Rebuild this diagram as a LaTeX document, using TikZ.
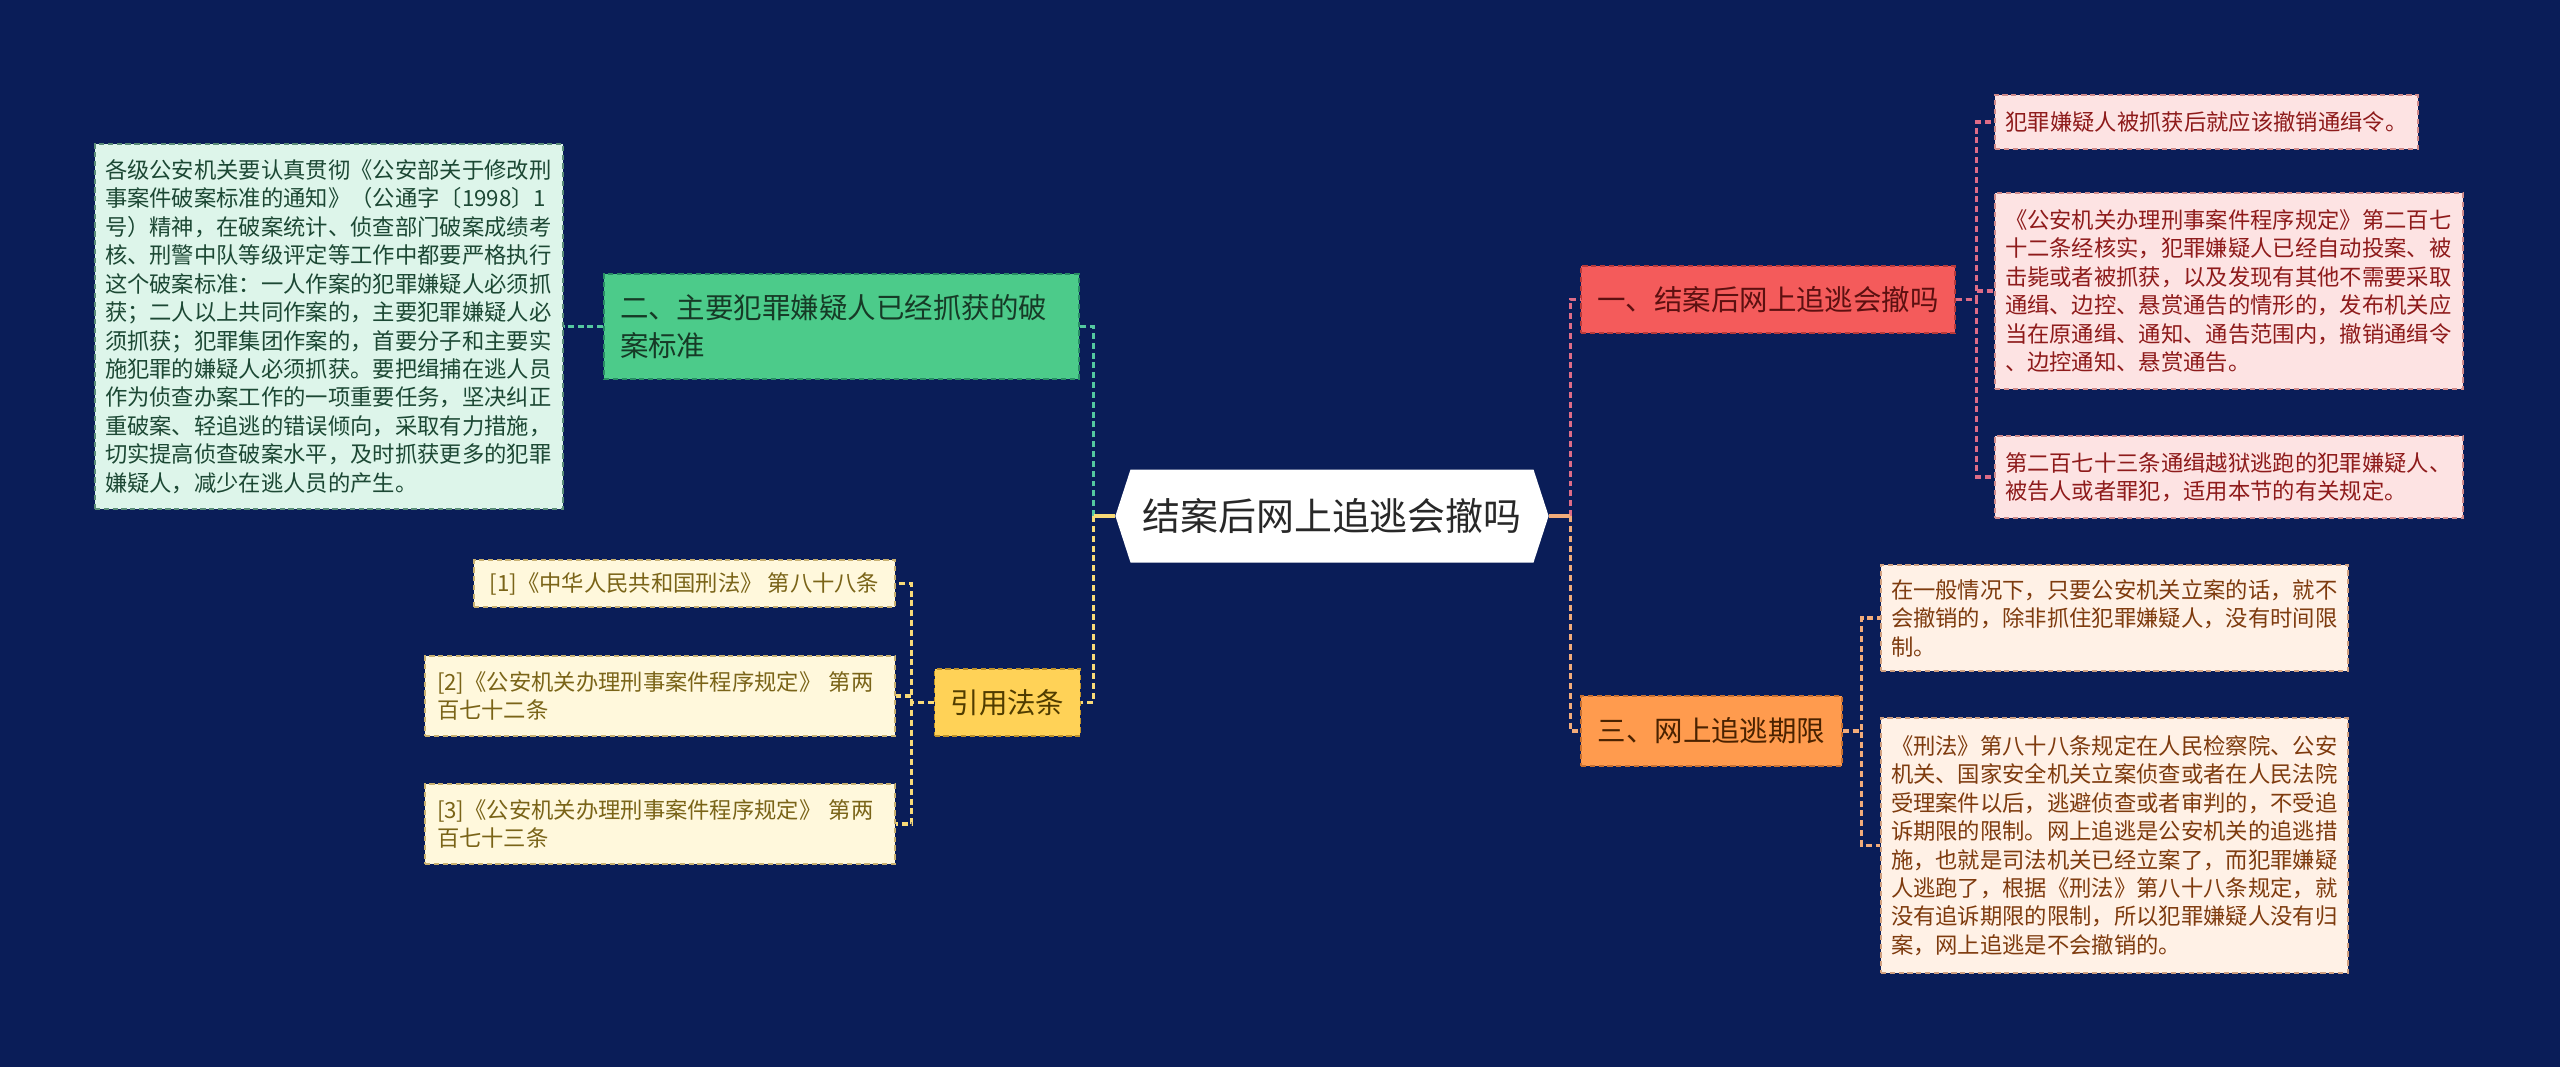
\documentclass[tikz,border=0pt]{standalone}
\usepackage{fontspec}
\setmainfont{Noto Sans CJK SC}
\usetikzlibrary{shapes.symbols, calc}
\usepackage{xcolor}
\definecolor{bgnavy}{RGB}{10,29,88}
\definecolor{rootink}{RGB}{40,40,40}
% green branch
\definecolor{grnfill}{RGB}{76,203,138}
\definecolor{grnedge}{RGB}{40,140,100}
\definecolor{grnink}{RGB}{22,58,38}
\definecolor{grnleaf}{RGB}{221,245,234}
\definecolor{grnleafedge}{RGB}{90,140,120}
\definecolor{grnleafink}{RGB}{28,72,52}
\definecolor{grnline}{RGB}{84,200,160}
% yellow branch
\definecolor{ylwfill}{RGB}{255,210,87}
\definecolor{ylwedge}{RGB}{190,145,40}
\definecolor{ylwink}{RGB}{80,60,0}
\definecolor{ylwleaf}{RGB}{255,248,220}
\definecolor{ylwleafedge}{RGB}{200,176,112}
\definecolor{ylwleafink}{RGB}{122,100,24}
\definecolor{ylwline}{RGB}{248,218,120}
% red branch
\definecolor{redfill}{RGB}{244,91,91}
\definecolor{rededge}{RGB}{184,58,58}
\definecolor{redink}{RGB}{92,16,16}
\definecolor{redleaf}{RGB}{253,227,227}
\definecolor{redleafedge}{RGB}{208,138,138}
\definecolor{redleafink}{RGB}{142,27,27}
\definecolor{redline}{RGB}{222,108,135}
% orange branch
\definecolor{orgfill}{RGB}{255,155,78}
\definecolor{orgedge}{RGB}{200,112,48}
\definecolor{orgink}{RGB}{74,34,0}
\definecolor{orgleaf}{RGB}{255,241,230}
\definecolor{orgleafedge}{RGB}{208,160,128}
\definecolor{orgleafink}{RGB}{126,59,14}
\definecolor{orgline}{RGB}{242,172,122}

\begin{document}
\begin{tikzpicture}[
  box/.style={rectangle, draw, dash pattern=on 1.5pt off 1pt, line width=0.4pt, align=left, inner ysep=0pt},
  leaf/.style={box, font=\fontsize{6.35pt}{8.1pt}\selectfont, inner xsep=0.1cm},
  branch/.style={box, font=\fontsize{8.1pt}{10.6pt}\selectfont, inner xsep=0.16cm},
  link/.style={dash pattern=on 1.7pt off 1.1pt, line width=0.9pt},
  stub/.style={line width=0.9pt}
]
  \fill[bgnavy] (0,0) rectangle (25.6,10.67);
  \useasboundingbox (0,0) rectangle (25.6,10.67);

  % root
  \node[signal, signal to=west and east, signal pointer angle=144, fill=white,
        minimum width=4.21cm, minimum height=0.93cm, text=rootink,
        font=\fontsize{10.8pt}{13pt}\selectfont] (root) at (13.32,5.51) {结案后网上追逃会撤吗};

  % left side
  \node[branch, fill=grnfill, draw=grnedge, text=grnink, text width=4.43cm, minimum height=1.05cm]
    (crit) at (8.415,7.405) {二、主要犯罪嫌疑人已经抓获的破\\案标准};
  \node[leaf, fill=grnleaf, draw=grnleafedge, text=grnleafink, text width=4.48cm, minimum height=3.65cm]
    (critnote) at (3.29,7.405) {各级公安机关要认真贯彻《公安部关于修改刑\\事案件破案标准的通知》（公通字〔1998〕1\\号）精神，在破案统计、侦查部门破案成绩考\\核、刑警中队等级评定等工作中都要严格执行\\这个破案标准：一人作案的犯罪嫌疑人必须抓\\获；二人以上共同作案的，主要犯罪嫌疑人必\\须抓获；犯罪集团作案的，首要分子和主要实\\施犯罪的嫌疑人必须抓获。要把缉捕在逃人员\\作为侦查办案工作的一项重要任务，坚决纠正\\重破案、轻追逃的错误倾向，采取有力措施，\\切实提高侦查破案水平，及时抓获更多的犯罪\\嫌疑人，减少在逃人员的产生。};

  \node[branch, fill=ylwfill, draw=ylwedge, text=ylwink, minimum width=1.43cm, minimum height=0.67cm, align=center]
    (laws) at (10.075,3.645) {引用法条};
  \node[leaf, fill=ylwleaf, draw=ylwleafedge, text=ylwleafink, inner xsep=0.14cm, minimum width=4.21cm, minimum height=0.47cm]
    (law1) at (6.845,4.835) {[1]《中华人民共和国刑法》 第八十八条};
  \node[leaf, fill=ylwleaf, draw=ylwleafedge, text=ylwleafink, inner xsep=0.12cm, text width=4.46cm, minimum height=0.8cm]
    (law2) at (6.60,3.71) {[2]《公安机关办理刑事案件程序规定》 第两\\百七十二条};
  \node[leaf, fill=ylwleaf, draw=ylwleafedge, text=ylwleafink, inner xsep=0.12cm, text width=4.46cm, minimum height=0.8cm]
    (law3) at (6.60,2.43) {[3]《公安机关办理刑事案件程序规定》 第两\\百七十三条};

  % right side
  \node[branch, fill=redfill, draw=rededge, text=redink, minimum width=3.74cm, minimum height=0.67cm, align=center]
    (undo) at (17.68,7.675) {一、结案后网上追逃会撤吗};
  \node[leaf, fill=redleaf, draw=redleafedge, text=redleafink, minimum width=4.23cm, minimum height=0.54cm]
    (undo1) at (22.065,9.45) {犯罪嫌疑人被抓获后就应该撤销通缉令。};
  \node[leaf, fill=redleaf, draw=redleafedge, text=redleafink, text width=4.48cm, minimum height=1.96cm]
    (undo2) at (22.29,7.76) {《公安机关办理刑事案件程序规定》第二百七\\十二条经核实，犯罪嫌疑人已经自动投案、被\\击毙或者被抓获，以及发现有其他不需要采取\\通缉、边控、悬赏通告的情形的，发布机关应\\当在原通缉、通知、通告范围内，撤销通缉令\\、边控通知、悬赏通告。};
  \node[leaf, fill=redleaf, draw=redleafedge, text=redleafink, text width=4.48cm, minimum height=0.82cm]
    (undo3) at (22.29,5.90) {第二百七十三条通缉越狱逃跑的犯罪嫌疑人、\\被告人或者罪犯，适用本节的有关规定。};

  \node[branch, fill=orgfill, draw=orgedge, text=orgink, minimum width=2.61cm, minimum height=0.70cm, align=center]
    (limit) at (17.115,3.36) {三、网上追逃期限};
  \node[leaf, fill=orgleaf, draw=orgleafedge, text=orgleafink, text width=4.47cm, minimum height=1.06cm]
    (limit1) at (21.145,4.49) {在一般情况下，只要公安机关立案的话，就不\\会撤销的，除非抓住犯罪嫌疑人，没有时间限\\制。};
  \node[leaf, fill=orgleaf, draw=orgleafedge, text=orgleafink, text width=4.47cm, minimum height=2.55cm]
    (limit2) at (21.145,2.215) {《刑法》第八十八条规定在人民检察院、公安\\机关、国家安全机关立案侦查或者在人民法院\\受理案件以后，逃避侦查或者审判的，不受追\\诉期限的限制。网上追逃是公安机关的追逃措\\施，也就是司法机关已经立案了，而犯罪嫌疑\\人逃跑了，根据《刑法》第八十八条规定，就\\没有追诉期限的限制，所以犯罪嫌疑人没有归\\案，网上追逃是不会撤销的。};

  % connectors
  \coordinate (lt) at ($(root.west)+(-0.21,0)$);
  \coordinate (rt) at ($(root.east)+(0.21,0)$);
  \draw[link, grnline] (lt) |- (crit.east);
  \draw[link, ylwline] (lt) |- (laws.east);
  \draw[stub, ylwline] (root.west) -- (lt);
  \draw[link, redline] (rt) |- (undo.west);
  \draw[link, orgline] (rt) |- (limit.west);
  \draw[stub, orgline] (root.east) -- (rt);
  \draw[link, grnline] (crit.west) -- (critnote.east);
  \foreach \n in {law1,law2,law3}
    \draw[link, ylwline] (laws.west) -- ++(-0.22,0) |- (\n.east);
  \foreach \n in {undo1,undo2,undo3}
    \draw[link, redline] (undo.east) -- ++(0.21,0) |- (\n.west);
  \foreach \n in {limit1,limit2}
    \draw[link, orgline] (limit.east) -- ++(0.19,0) |- (\n.west);
\end{tikzpicture}
\end{document}
